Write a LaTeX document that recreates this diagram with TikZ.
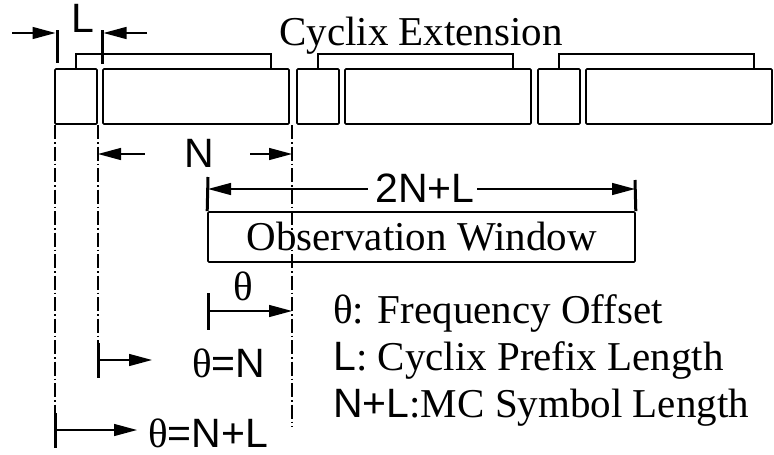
\documentclass[tikz,border=0pt]{standalone}
\usepackage{fontspec}
\setmainfont{Liberation Serif}
\setsansfont{Liberation Sans}
\usetikzlibrary{arrows.meta,positioning}

\begin{document}
\begin{tikzpicture}[x=1pt, y=-1pt, >={Triangle[length=23pt,width=12pt]},
  font=\fontsize{41}{47}\selectfont,
  blk/.style={draw, line width=1.6pt, rounded corners=1pt, inner sep=0pt, minimum height=55pt},
  cpbox/.style={blk, minimum width=42pt},
  symbox/.style={blk, minimum width=186pt},
  ext/.style={line width=1.6pt},
  tick/.style={line width=3pt},
  dim/.style={line width=1.4pt},
  guide/.style={line width=1.1pt, dash pattern=on 14pt off 3pt on 1.5pt off 3pt},
  lbl/.style={inner sep=0pt, anchor=base west},
  sym/.style={font=\fontsize{41}{47}\selectfont\sffamily}]
\useasboundingbox (0,0) rectangle (774,455);

% MC symbols: cyclic prefix + body, with the extension bracket
\foreach \i/\o in {1/0, 2/242, 3/483} {
  \node[cpbox]  (cp\i)  at (76+\o, 96.5)  {};
  \node[symbox] (sym\i) at (196+\o, 96.5) {};
  \draw[ext] (cp\i.north) -- ++(0,-14) -| ([xshift=-19pt]sym\i.north east);
}
\node[lbl] (cyc) at (279,45) {Cyclix Extension};

% prefix length L
\coordinate (La) at (57,30);  \coordinate (Lb) at (57,63);
\coordinate (Lc) at (102,30); \coordinate (Ld) at (102,64);
\coordinate (Lin) at (12,33); \coordinate (Lout) at (147,33);
\draw[tick] (La) -- (Lb);
\draw[tick] (Lc) -- (Ld);
\draw[dim,->, shorten >=1.5pt] (Lin) -- (Lin -| La);
\draw[dim,->, shorten >=1.5pt] (Lout) -- (Lout -| Lc);
\node[lbl, sym] (Ltxt) at (71,32) {L};

% guide lines
\coordinate (gA0) at (55,125);  \coordinate (gA) at (55,413);
\coordinate (gB0) at (98,125);  \coordinate (gB) at (98,343);
\coordinate (gC0) at (292,125); \coordinate (gC) at (292,427);
\draw[guide] (gA0) -- (gA);
\draw[guide] (gB0) -- (gB);
\draw[guide] (gC0) -- (gC);

% symbol length N
\coordinate (Nl) at (98,154); \coordinate (Nr) at (292,154);
\node[sym, inner sep=0pt, anchor=base] (Ntxt) at (199,167) {N};
\draw[dim,<-, shorten >=39pt] (Nl) -- (Nl -| Ntxt.west);
\draw[dim,<-, shorten >=36pt] (Nr) -- (Nr -| Ntxt.east);

% observation window 2N+L
\node[blk, minimum width=427pt, minimum height=50pt] (obs) at (421.5,237) {Observation Window};
\coordinate (Wl) at (208,177); \coordinate (Wr) at (635,180);
\coordinate (Wm) at (208,189); \coordinate (Wn) at (635,189);
\draw[tick] (Wl) -- (obs.north west);
\draw[tick] (Wr) -- (obs.north east);
\node[sym, inner sep=0pt, anchor=base] (Wtxt) at (425,202) {2N+L};
\draw[dim,<-, shorten >=7pt] (Wm) -- (Wm -| Wtxt.west);
\draw[dim,<-, shorten >=2pt] (Wn) -- (Wn -| Wtxt.east);

% offsets
\coordinate (Ta) at (208,293); \coordinate (Tb) at (208,330); \coordinate (Tm) at (208,311);
\draw[tick] (Ta) -- (Tb);
\draw[dim,->] (Tm) -- (Tm -| gC);
\node[inner sep=0pt, anchor=base] (Tlbl) at (243,300) {θ};

\coordinate (Na) at (98,343); \coordinate (Nb) at (98,378); \coordinate (Nm) at (98,360);
\coordinate (Ne) at (152,360);
\draw[tick] (Na) -- (Nb);
\draw[dim,->] (Nm) -- (Ne);
\node[lbl] (NNtxt) at (192,377) {θ\sffamily=N};

\coordinate (Pa) at (55,413); \coordinate (Pb) at (55,448); \coordinate (Pm) at (55,430);
\coordinate (Pe) at (137,430);
\draw[tick] (Pa) -- (Pb);
\draw[dim,->] (Pm) -- (Pe);
\node[lbl] (PPtxt) at (148,447) {θ\sffamily=N+L};

% legend
\node[lbl] (leg1) at (333,323) {θ: Frequency Offset};
\node[lbl] (leg2) at (333,370) {{\sffamily L}: Cyclix Prefix Length};
\node[lbl] (leg3) at (333,417) {{\sffamily N+L}:MC Symbol Length};
\end{tikzpicture}
\end{document}
